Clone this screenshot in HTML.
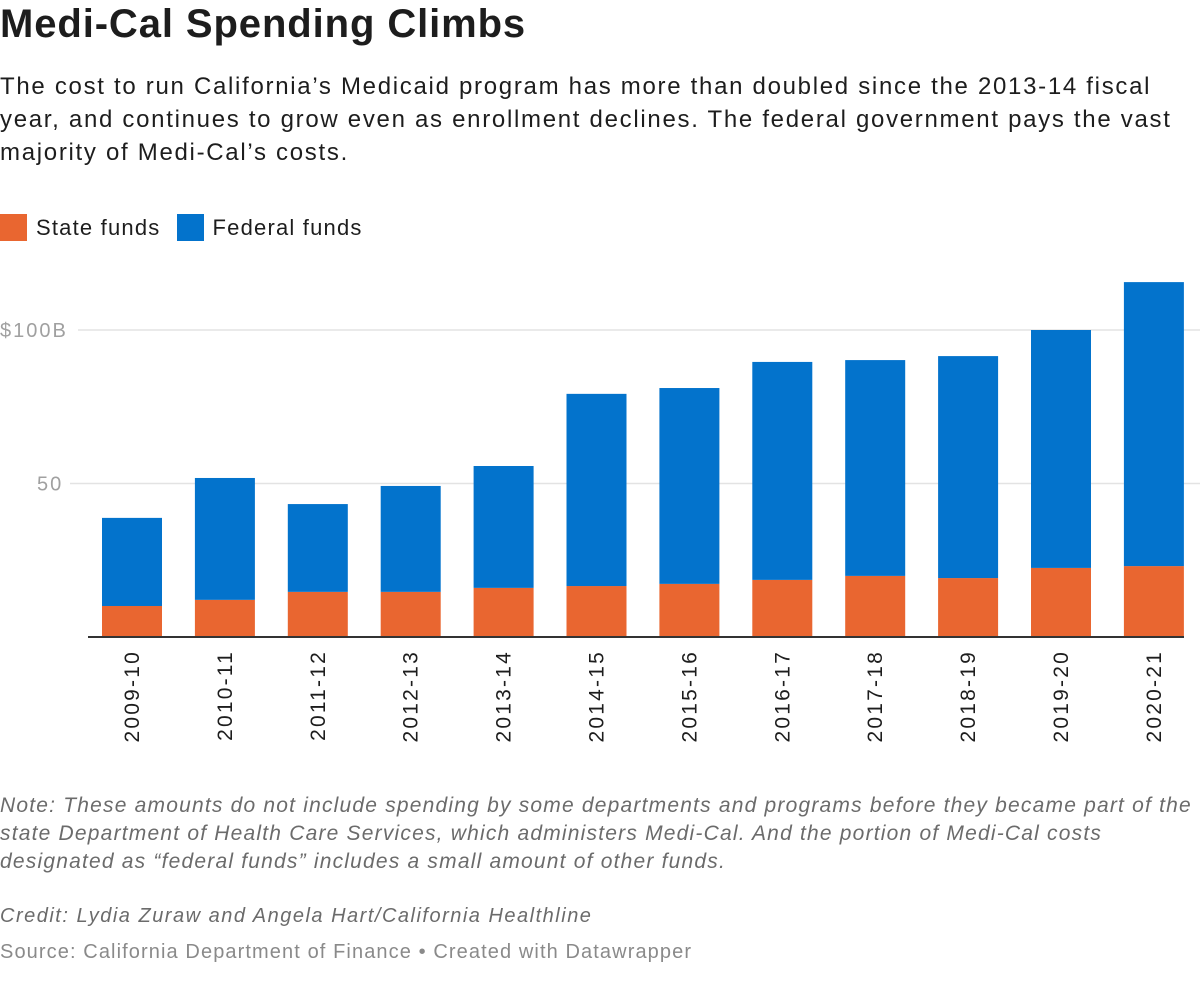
<!DOCTYPE html>
<html><head><meta charset="utf-8"><style>
body{margin:0;width:1200px;height:984px;background:#fff;font-family:"Liberation Sans",sans-serif;color:#1d1d1d;position:relative;overflow:hidden}
.t{position:absolute;left:0;margin:0;white-space:nowrap}
</style></head><body>
<h1 class="t" style="top:2px;font-size:40px;font-weight:bold;letter-spacing:0.9px">Medi-Cal Spending Climbs</h1>
<p class="t" style="top:70px;font-size:24px;line-height:33px;letter-spacing:1.7px">The cost to run California’s Medicaid program has more than doubled since the 2013-14 fiscal<br>year, and continues to grow even as enrollment declines. The federal government pays the vast<br>majority of Medi-Cal’s costs.</p>
<div class="t" style="top:214px;font-size:22px;letter-spacing:1.2px;display:flex;align-items:center">
<span style="width:27px;height:27px;background:#e96630;margin-right:9px"></span><span style="margin-right:16px">State funds</span>
<span style="width:27px;height:27px;background:#0373cc;margin-right:9px"></span><span>Federal funds</span></div>
<svg id="c" width="1200" height="790" style="position:absolute;left:0;top:0"></svg>
<p class="t" style="top:792px;font-size:21px;line-height:28px;font-style:italic;color:#6b6b6b;letter-spacing:1.2px">Note: These amounts do not include spending by some departments and programs before they became part of the<br>state Department of Health Care Services, which administers Medi-Cal. And the portion of Medi-Cal costs<br>designated as “federal funds” includes a small amount of other funds.</p>
<p class="t" style="top:905px;font-size:20px;font-style:italic;color:#6b6b6b;letter-spacing:1.5px">Credit: Lydia Zuraw and Angela Hart/California Healthline</p>
<p class="t" style="top:941px;font-size:20px;color:#8a8a8a;letter-spacing:1.1px">Source: California Department of Finance • Created with Datawrapper</p>
<script>
const categories=["2009-10","2010-11","2011-12","2012-13","2013-14","2014-15","2015-16","2016-17","2017-18","2018-19","2019-20","2020-21"];
const stateFunds=[10.1,12.1,14.7,14.7,16.0,16.6,17.3,18.6,19.9,19.2,22.5,23.1];
const federalFunds=[28.7,39.7,28.6,34.5,39.7,62.6,63.8,71.0,70.3,72.3,77.5,92.5];
const yTicks=[50,100];
const yTickLabels=["50","$100B"];
const svg=document.getElementById('c');const NS="http://www.w3.org/2000/svg";
const y0=637,k=3.07;const y=v=>y0-v*k;
const x=i=>102+i*92.9,bw=60;
function mk(t,a){const e=document.createElementNS(NS,t);for(const n in a)e.setAttribute(n,a[n]);svg.appendChild(e);return e;}
yTicks.forEach((t,i)=>{
const l=mk('line',{x1:i==1?78:70,x2:1200,y1:y(t),y2:y(t),stroke:'#e3e3e3','stroke-width':1.5});


const tx=mk('text',{x:i==1?0:37,y:y(t)+7,'font-size':20,fill:'#a0a0a0','font-family':'Liberation Sans','letter-spacing':2});
tx.textContent=yTickLabels[i];


});
categories.forEach((c,i)=>{
const s=mk('rect',{x:x(i),y:y(stateFunds[i]),width:bw,height:stateFunds[i]*k,fill:'#e96630'});


const tot=stateFunds[i]+federalFunds[i];
const f=mk('rect',{x:x(i),y:y(tot),width:bw,height:federalFunds[i]*k,fill:'#0373cc'});


const cx=x(i)+bw/2+7;
const t=mk('text',{x:cx,y:650,'font-size':21,fill:'#1d1d1d','text-anchor':'end','font-family':'Liberation Sans','letter-spacing':2.2,transform:`rotate(-90 ${cx} 650)`});
t.textContent=c;


});
const b=mk('line',{x1:88,x2:1184,y1:y0,y2:y0,stroke:'#333','stroke-width':2});


</script>
</body></html>
